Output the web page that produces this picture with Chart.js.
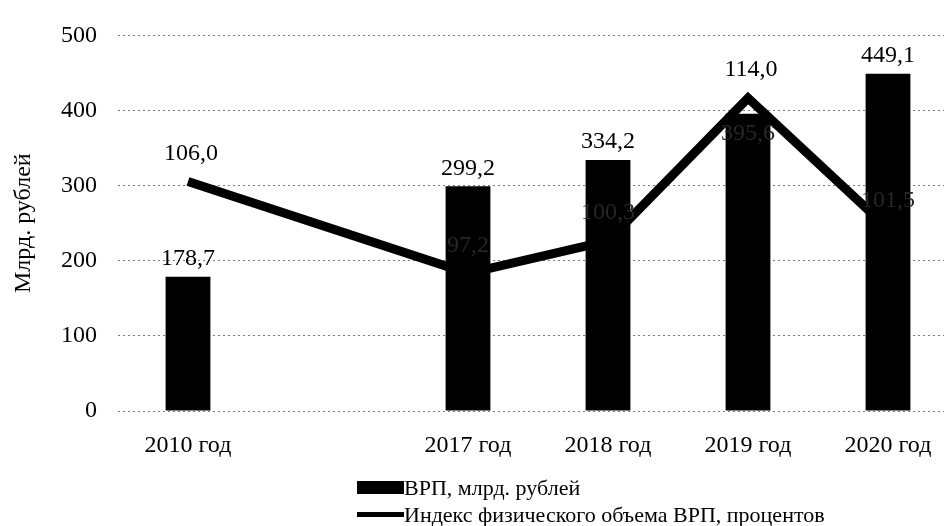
<!DOCTYPE html>
<html lang="ru">
<head>
<meta charset="utf-8">
<script src="https://cdn.jsdelivr.net/npm/chart.js@4"></script>
<style>
  body { margin: 0; background: #fff; overflow: hidden; width: 944px; height: 526px; }
  #wrap { position: relative; width: 960px; height: 526px; }
  #legend { position: absolute; left: 357px; top: 474px; font: 22px "Liberation Serif", serif; color: #000; }
  .item { display: flex; align-items: center; height: 27px; white-space: nowrap; }
  .box { width: 47px; height: 13px; background: #000; }
  .ln { width: 47px; height: 5px; background: #000; }
</style>
</head>
<body>
<div id="wrap">
  <canvas id="myChart" width="960" height="526"></canvas>
  <div id="legend">
    <div class="item"><span class="box"></span>ВРП, млрд. рублей</div>
    <div class="item"><span class="ln"></span>Индекс физического объема ВРП, процентов</div>
  </div>
</div>
<script>
'use strict'

// категории (пустая позиция между 2010 и 2017 годом как в оригинале)
const years = ['2010 год', '', '2017 год', '2018 год', '2019 год', '2020 год']
const vrp = [178.7, null, 299.2, 334.2, 395.6, 449.1]
const indexVrp = [106.0, null, 97.2, 100.3, 114.0, 101.5]
const yTicks = [0, 100, 200, 300, 400, 500]

const fmt = v => v.toFixed(1).replace('.', ',')

// подписи значений, те что на чёрных столбцах почти не видны
const labelPlugin = {
  id: 'valueLabels',
  afterDatasetsDraw(chart) {
    const ctx = chart.ctx
    const bars = chart.getDatasetMeta(0).data
    const pts = chart.getDatasetMeta(1).data
    const hidden = '#262626'
    ctx.save()
    ctx.font = '24px "Liberation Serif"'
    ctx.textAlign = 'center'
    ctx.textBaseline = 'middle'
    bars.forEach((bar, i) => {
      if (vrp[i] == null) return
      const pt = pts[i]
      const lineOver = indexVrp[i] != null && pt.y < bar.y && bar.y - pt.y < 40
      if (lineOver) {
        ctx.fillStyle = hidden
        ctx.fillText(fmt(vrp[i]), bar.x, bar.y + 20)
      } else {
        ctx.fillStyle = '#000'
        ctx.fillText(fmt(vrp[i]), bar.x, bar.y - 18)
      }
    })
    pts.forEach((pt, i) => {
      if (indexVrp[i] == null) return
      const bar = bars[i]
      const inside = vrp[i] != null && pt.y > bar.y + 20
      ctx.fillStyle = inside ? hidden : '#000'
      ctx.fillText(fmt(indexVrp[i]), pt.x + (inside ? 0 : 3), pt.y - 28)
    })
    ctx.restore()
  }
}

const ctx = document.getElementById('myChart')

new Chart(ctx, {
  data: {
    labels: years,
    datasets: [{
      type: 'bar',
      label: 'ВРП, млрд. рублей',
      data: vrp,
      backgroundColor: '#000',
      categoryPercentage: 1,
      barPercentage: 0.32,
      yAxisID: 'y',
      order: 1
    }, {
      type: 'line',
      label: 'Индекс физического объема ВРП, процентов',
      data: indexVrp,
      borderColor: '#000',
      borderWidth: 9,
      pointRadius: 0,
      spanGaps: true,
      tension: 0,
      yAxisID: 'y1',
      order: 0
    }]
  },
  options: {
    responsive: false,
    animation: false,
    layout: { padding: { top: 24, right: 2, left: 0, bottom: 0 } },
    plugins: {
      legend: { display: false },
      tooltip: { enabled: false }
    },
    scales: {
      x: {
        grid: { display: false, drawTicks: false },
        border: { display: false },
        ticks: { color: '#000', padding: 20, font: { family: 'Liberation Serif', size: 24 } },
        afterFit: s => { s.height = 526 - 411 }
      },
      y: {
        min: 0,
        max: 500,
        afterBuildTicks: s => { s.ticks = yTicks.map(v => ({ value: v })) },
        grid: { color: '#7a7a7a', lineWidth: 1, drawTicks: false },
        border: { display: false, dash: [2, 3] },
        ticks: { color: '#000', padding: 21, font: { family: 'Liberation Serif', size: 24 } },
        title: {
          display: true,
          text: 'Млрд. рублей',
          color: '#000',
          padding: { top: 9, bottom: 0 },
          font: { family: 'Liberation Serif', size: 24 }
        },
        afterFit: s => { s.width = 118 }
      },
      y1: {
        display: false,
        position: 'right',
        min: 84,
        max: 120,
        grid: { display: false }
      }
    }
  },
  plugins: [labelPlugin]
})
</script>
</body>
</html>
